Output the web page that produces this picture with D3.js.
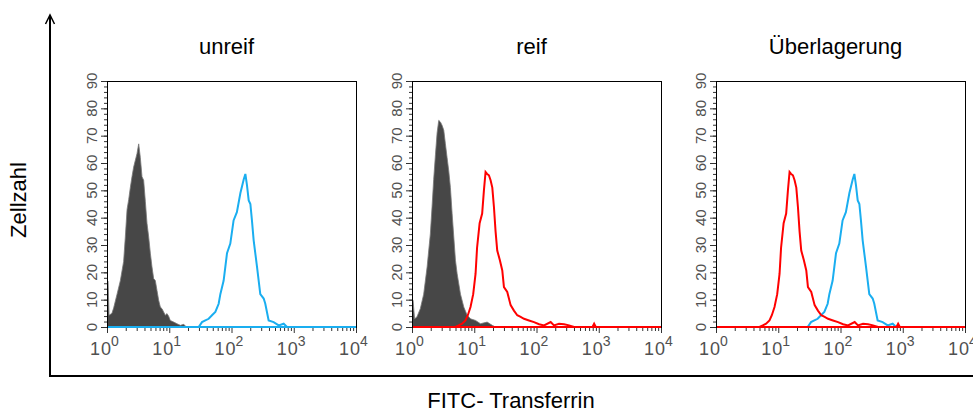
<!DOCTYPE html>
<html lang="de">
<head>
    <meta charset="UTF-8">
    <title>FITC-Transferrin Histogramme</title>
    <script src="https://d3js.org/d3.v7.min.js"></script>
    <style>
        * { margin: 0; padding: 0; box-sizing: border-box; }
        html, body { width: 973px; height: 412px; background: #fff; overflow: hidden; }
        svg { display: block; font-family: "Liberation Sans", Arial, sans-serif; }
        .tick-label { fill: #505050; }
    </style>
</head>
<body>
<svg id="chart" width="973" height="412"></svg>
<script>
    // panel titles and axis labels
    const panelTitles = ["unreif", "reif", "Überlagerung"];
    const yLabel = "Zellzahl";
    const xLabel = "FITC- Transferrin";
    const yTicks = [0, 10, 20, 30, 40, 50, 60, 70, 80, 90];
    const xDecades = [1, 10, 100, 1000, 10000];

    // [fluorescence intensity, cell count]
    // isotype control, unreif
    const controlUnreif = [
        [1.0, 16.8], [1.04, 16.8], [1.08, 4.3], [1.20, 5], [1.28, 7], [1.45, 12], [1.64, 17], [1.85, 24],
        [1.97, 33], [2.10, 43], [2.23, 46.6], [2.37, 51], [2.52, 55], [2.68, 58.5],
        [2.85, 61], [3.03, 63.4], [3.23, 67], [3.43, 62], [3.65, 55], [3.88, 53.7],
        [4.13, 46], [4.39, 38], [4.67, 33], [4.97, 27], [5.28, 22], [5.62, 17.7],
        [5.97, 17], [6.35, 13.4], [6.76, 9.8], [7.19, 7.3], [7.65, 6.7], [8.13, 5.5],
        [8.65, 4.3], [9.20, 4.9], [9.79, 3.9], [10.4, 2.4], [11.8, 1.8], [13.3, 1.2],
        [15.1, 0.6], [17.1, 1], [18.8, 0]
    ];
    // transferrin staining, unreif (blue)
    const stainUnreif = [
        [1, 0], [29.7, 0], [33.6, 1.8], [38.0, 2.4], [43.0, 3], [48.6, 4.3], [55.0, 5.5],
        [62.2, 8.5], [66.2, 12], [74.8, 17], [79.6, 22], [84.7, 27], [95.7, 30.5],
        [102, 35], [108, 39], [122, 42], [139, 49], [157, 54], [167, 56], [177, 52],
        [189, 46.3], [201, 45], [213, 39], [227, 31.7], [257, 22], [290, 12],
        [329, 10.4], [349, 8.5], [395, 2.4], [475, 1.8], [573, 0.6], [689, 1.2],
        [780, 0], [10000, 0]
    ];
    // isotype control, reif
    const controlReif = [
        [1.0, 9.8], [1.04, 9.8], [1.10, 3], [1.20, 3.7], [1.36, 6.7], [1.54, 12], [1.75, 22],
        [1.97, 34], [2.10, 44], [2.23, 54], [2.38, 63], [2.53, 71], [2.69, 75.6],
        [2.86, 75], [3.04, 73.8], [3.24, 72], [3.44, 67], [3.66, 62], [3.90, 57],
        [4.14, 51], [4.41, 41.5], [4.69, 33], [4.99, 24.4], [5.31, 19.5], [6.01, 12],
        [6.79, 7.3], [7.69, 4.3], [8.71, 3], [10.5, 2.4], [12.6, 1.2], [16.1, 1.8],
        [19.5, 0.6], [22.0, 0]
    ];
    // transferrin staining, reif (red)
    const stainReif = [
        [1, 0], [4.99, 0], [5.65, 0.6], [6.38, 1.2], [7.23, 2.4], [7.89, 4.3], [8.71, 7.3],
        [9.62, 12], [10.5, 19.5], [11.1, 29], [12.2, 38], [13.4, 41.5], [14.3, 50],
        [15.2, 56.7], [16.1, 56], [17.2, 55.5], [18.3, 53.7], [19.5, 51], [20.7, 44],
        [22.0, 35], [23.4, 28], [25.8, 24.4], [28.2, 20.7], [30.0, 14.6], [33.9, 12.8],
        [38.4, 8], [43.4, 6], [49.1, 4.3], [55.6, 3.7], [63.0, 3], [75.7, 2.4],
        [91.2, 1.8], [110, 1], [132, 0.6], [169, 1.8], [191, 0.6], [230, 1.2],
        [277, 1], [333, 0.6], [402, 0], [793, 0], [843, 1.2], [897, 0], [10000, 0]
    ];

    const blue = "#1aaef0";
    const red = "#ff0000";
    const grey = "#474747";

    const panels = [
        { title: panelTitles[0], left: 107, fill: controlUnreif, lines: [[stainUnreif, blue]] },
        { title: panelTitles[1], left: 412, fill: controlReif, lines: [[stainReif, red]] },
        { title: panelTitles[2], left: 716, fill: null, lines: [[stainUnreif, blue], [stainReif, red]] }
    ];
    const panelW = 249, plotTop = 81, plotBottom = 327;

    const svg = d3.select("#chart");

    // outer axes with arrow
    svg.append("line").attr("x1", 50).attr("y1", 16).attr("x2", 50).attr("y2", 376)
        .attr("stroke", "#000").attr("stroke-width", 2);
    svg.append("line").attr("x1", 49).attr("y1", 376).attr("x2", 973).attr("y2", 376)
        .attr("stroke", "#000").attr("stroke-width", 2);
    svg.append("path").attr("d", "M45.5,24 L50,15 L54.5,24")
        .attr("fill", "none").attr("stroke", "#000").attr("stroke-width", 1.5);

    svg.append("text")
        .attr("transform", "translate(26,200) rotate(-90)")
        .attr("text-anchor", "middle")
        .attr("font-size", 22)
        .text(yLabel);
    svg.append("text")
        .attr("x", 511).attr("y", 408)
        .attr("text-anchor", "middle")
        .attr("font-size", 22)
        .text(xLabel);

    const y = d3.scaleLinear().domain([0, 90]).range([plotBottom, plotTop]);

    panels.forEach((p, i) => {
        const x = d3.scaleLog().domain([1, 10000]).range([p.left, p.left + panelW]);
        const g = svg.append("g");

        g.append("text")
            .attr("x", p.left + panelW / 2 - 5).attr("y", 54)
            .attr("text-anchor", "middle")
            .attr("font-size", 22)
            .text(p.title);

        const clipId = "clip" + i;
        svg.append("clipPath").attr("id", clipId)
            .append("rect").attr("x", p.left).attr("y", plotTop - 1)
            .attr("width", panelW + 1).attr("height", plotBottom - plotTop + 2);

        const plot = g.append("g").attr("clip-path", `url(#${clipId})`);

        if (p.fill) {
            const area = d3.area()
                .x(d => x(d[0]))
                .y0(y(0))
                .y1(d => y(d[1]));
            plot.append("path").datum(p.fill)
                .attr("d", area)
                .attr("fill", grey)
                .attr("stroke", "#777")
                .attr("stroke-width", 0.8);
        }

        const line = d3.line()
            .x(d => x(d[0]))
            .y(d => y(d[1]));
        p.lines.forEach(([data, color]) => {
            plot.append("path").datum(data)
                .attr("d", line)
                .attr("fill", "none")
                .attr("stroke", color)
                .attr("stroke-width", 2);
        });

        // frame
        g.append("rect")
            .attr("x", p.left + 0.5).attr("y", plotTop + 0.5)
            .attr("width", panelW).attr("height", plotBottom - plotTop)
            .attr("fill", "none").attr("stroke", "#000").attr("stroke-width", 1);
        // redraw coloured baseline over the frame
        const lastColor = p.lines[p.lines.length - 1][1];
        g.append("line")
            .attr("x1", p.left + 1).attr("x2", p.left + panelW)
            .attr("y1", plotBottom).attr("y2", plotBottom)
            .attr("stroke", lastColor).attr("stroke-width", 2);

        // y axis ticks
        const yAxis = d3.axisLeft(y).tickValues(yTicks).tickSize(6).tickFormat("");
        const yMinor = d3.axisLeft(y).tickValues(d3.range(0, 91, 2)).tickSize(3).tickFormat("");
        g.append("g").attr("transform", `translate(${p.left},0)`).call(yMinor)
            .call(s => s.select(".domain").remove());
        g.append("g").attr("transform", `translate(${p.left},0)`).call(yAxis)
            .call(s => s.select(".domain").remove());
        g.selectAll(".tick line").attr("stroke", "#333");

        yTicks.forEach(v => {
            g.append("text")
                .attr("class", "tick-label")
                .attr("transform", `translate(${p.left - 10},${y(v)}) rotate(-90)`)
                .attr("text-anchor", "middle")
                .attr("font-size", 15)
                .text(v);
        });

        // x axis ticks
        const minorVals = [];
        xDecades.slice(0, -1).forEach(d => { for (let k = 2; k <= 9; k++) minorVals.push(d * k); });
        const xMinor = d3.axisBottom(x).tickValues(minorVals).tickSize(3).tickFormat("");
        const xMajor = d3.axisBottom(x).tickValues(xDecades).tickSize(5).tickFormat("");
        const xg = g.append("g").attr("transform", `translate(0,${plotBottom + 1})`);
        xg.append("g").call(xMinor).call(s => s.select(".domain").remove());
        xg.append("g").call(xMajor).call(s => s.select(".domain").remove());
        xg.selectAll("line").attr("stroke", "#333");

        xDecades.forEach((d, k) => {
            g.append("text")
                .attr("class", "tick-label")
                .attr("x", x(d) + 5).attr("y", 355)
                .attr("text-anchor", "end")
                .attr("font-size", 18)
                .attr("letter-spacing", 1)
                .text("10");
            g.append("text")
                .attr("class", "tick-label")
                .attr("x", x(d) + 4).attr("y", 346)
                .attr("font-size", 14)
                .text(k);
        });
    });
</script>
</body>
</html>
